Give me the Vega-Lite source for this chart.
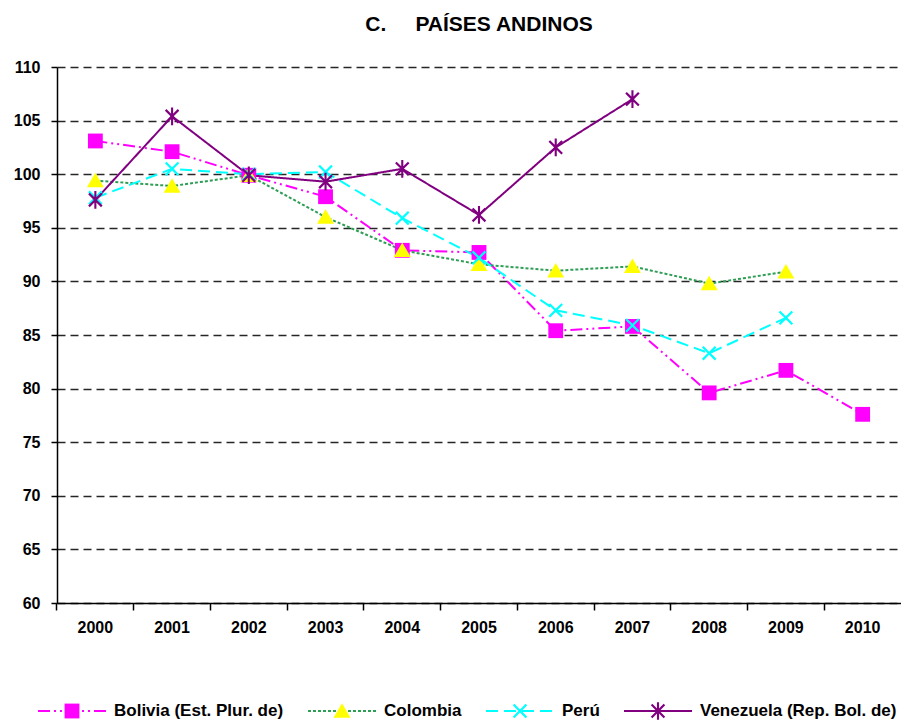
{
  "$schema": "https://vega.github.io/schema/vega-lite/v6.json",
  "width": 844,
  "height": 536,
  "autosize": {"type": "none"},
  "padding": {"left": 57, "top": 67, "right": 0, "bottom": 118},
  "background": "white",
  "config": {
    "font": "Liberation Sans",
    "view": {"stroke": null}
  },
  "title": {
    "text": "C.\u00a0\u00a0\u00a0\u00a0 PAÍSES ANDINOS",
    "fontSize": 21,
    "fontWeight": "bold",
    "font": "Liberation Sans",
    "anchor": "middle",
    "offset": 24,
    "color": "#000000"
  },
  "data": {
    "values": [
      {"anio": "2000", "pais": "Bolivia (Est. Plur. de)", "valor": 103.1},
      {"anio": "2001", "pais": "Bolivia (Est. Plur. de)", "valor": 102.1},
      {"anio": "2002", "pais": "Bolivia (Est. Plur. de)", "valor": 99.9},
      {"anio": "2003", "pais": "Bolivia (Est. Plur. de)", "valor": 97.9},
      {"anio": "2004", "pais": "Bolivia (Est. Plur. de)", "valor": 92.9},
      {"anio": "2005", "pais": "Bolivia (Est. Plur. de)", "valor": 92.7},
      {"anio": "2006", "pais": "Bolivia (Est. Plur. de)", "valor": 85.4},
      {"anio": "2007", "pais": "Bolivia (Est. Plur. de)", "valor": 85.8},
      {"anio": "2008", "pais": "Bolivia (Est. Plur. de)", "valor": 79.6},
      {"anio": "2009", "pais": "Bolivia (Est. Plur. de)", "valor": 81.7},
      {"anio": "2010", "pais": "Bolivia (Est. Plur. de)", "valor": 77.6},
      {"anio": "2000", "pais": "Colombia", "valor": 99.4},
      {"anio": "2001", "pais": "Colombia", "valor": 98.9},
      {"anio": "2002", "pais": "Colombia", "valor": 99.9},
      {"anio": "2003", "pais": "Colombia", "valor": 96.0},
      {"anio": "2004", "pais": "Colombia", "valor": 92.9},
      {"anio": "2005", "pais": "Colombia", "valor": 91.6},
      {"anio": "2006", "pais": "Colombia", "valor": 91.0},
      {"anio": "2007", "pais": "Colombia", "valor": 91.4},
      {"anio": "2008", "pais": "Colombia", "valor": 89.8},
      {"anio": "2009", "pais": "Colombia", "valor": 90.9},
      {"anio": "2000", "pais": "Perú", "valor": 97.8},
      {"anio": "2001", "pais": "Perú", "valor": 100.5},
      {"anio": "2002", "pais": "Perú", "valor": 100.0},
      {"anio": "2003", "pais": "Perú", "valor": 100.2},
      {"anio": "2004", "pais": "Perú", "valor": 95.9},
      {"anio": "2005", "pais": "Perú", "valor": 92.2},
      {"anio": "2006", "pais": "Perú", "valor": 87.3},
      {"anio": "2007", "pais": "Perú", "valor": 85.9},
      {"anio": "2008", "pais": "Perú", "valor": 83.3},
      {"anio": "2009", "pais": "Perú", "valor": 86.6},
      {"anio": "2000", "pais": "Venezuela (Rep. Bol. de)", "valor": 97.6},
      {"anio": "2001", "pais": "Venezuela (Rep. Bol. de)", "valor": 105.4},
      {"anio": "2002", "pais": "Venezuela (Rep. Bol. de)", "valor": 99.9},
      {"anio": "2003", "pais": "Venezuela (Rep. Bol. de)", "valor": 99.3},
      {"anio": "2004", "pais": "Venezuela (Rep. Bol. de)", "valor": 100.5},
      {"anio": "2005", "pais": "Venezuela (Rep. Bol. de)", "valor": 96.2},
      {"anio": "2006", "pais": "Venezuela (Rep. Bol. de)", "valor": 102.5},
      {"anio": "2007", "pais": "Venezuela (Rep. Bol. de)", "valor": 107.0}
    ]
  },
  "encoding": {
    "x": {
      "field": "anio",
      "type": "ordinal",
      "bandPosition": 0.5,
      "scale": {"type": "band", "paddingInner": 0, "paddingOuter": 0},
      "axis": {
        "title": null,
        "labelAngle": 0,
        "labelFont": "Liberation Sans",
        "labelFontSize": 16,
        "labelFontWeight": "bold",
        "labelColor": "#000000",
        "labelPadding": 9,
        "domainColor": "#000000",
        "domainWidth": 1.5,
        "tickColor": "#000000",
        "tickWidth": 1.5,
        "tickSize": 7,
        "bandPosition": 0,
        "grid": false
      }
    },
    "y": {
      "field": "valor",
      "type": "quantitative",
      "scale": {"domain": [60, 110], "nice": false, "zero": false},
      "axis": {
        "title": null,
        "values": [60, 65, 70, 75, 80, 85, 90, 95, 100, 105, 110],
        "labelFont": "Liberation Sans",
        "labelFontSize": 16,
        "labelFontWeight": "bold",
        "labelColor": "#000000",
        "labelPadding": 11,
        "domainColor": "#000000",
        "domainWidth": 1.5,
        "tickColor": "#000000",
        "tickWidth": 1.5,
        "tickSize": 6,
        "grid": true,
        "gridColor": "#000000",
        "gridWidth": 1.6,
        "gridDash": [8, 5],
        "gridOpacity": 0.85
      }
    }
  },
  "layer": [
    {
      "mark": {"type": "line", "strokeWidth": 2},
      "encoding": {
        "stroke": {
          "field": "pais",
          "type": "nominal",
          "scale": {
            "domain": ["Bolivia (Est. Plur. de)", "Colombia", "Perú", "Venezuela (Rep. Bol. de)"],
            "range": ["#FF00FF", "#2E9E55", "#00FFFF", "#800080"]
          },
          "legend": {
            "title": null,
            "orient": "none",
            "legendX": -20,
            "legendY": 634,
            "direction": "horizontal",
            "symbolType": "stroke",
            "symbolSize": 4624,
            "symbolStrokeWidth": 2,
            "clipHeight": 20,
            "labelFont": "Liberation Sans",
            "labelFontSize": 17,
            "labelFontWeight": "bold",
            "labelColor": "#000000",
            "labelLimit": 400,
            "labelOffset": 7,
            "columnPadding": 23,
            "zindex": 0
          }
        },
        "strokeDash": {
          "field": "pais",
          "type": "nominal",
          "scale": {
            "domain": ["Bolivia (Est. Plur. de)", "Colombia", "Perú", "Venezuela (Rep. Bol. de)"],
            "range": [[12, 4, 2, 4, 2, 4], [3, 2], [12, 6], [1, 0]]
          },
          "legend": {
            "title": null,
            "orient": "none",
            "legendX": -20,
            "legendY": 634,
            "direction": "horizontal",
            "symbolType": "stroke",
            "symbolSize": 4624,
            "symbolStrokeWidth": 2,
            "clipHeight": 20,
            "labelFont": "Liberation Sans",
            "labelFontSize": 17,
            "labelFontWeight": "bold",
            "labelColor": "#000000",
            "labelLimit": 400,
            "labelOffset": 7,
            "columnPadding": 23,
            "zindex": 0
          }
        }
      }
    },
    {
      "mark": {"type": "point", "filled": true, "size": 4624, "opacity": 1, "strokeWidth": 0},
      "encoding": {
        "shape": {
          "field": "pais",
          "type": "nominal",
          "scale": {
            "domain": ["Bolivia (Est. Plur. de)", "Colombia", "Perú", "Venezuela (Rep. Bol. de)"],
            "range": [
              "M-1,0M1,0M-0.218,-0.218L0.218,-0.218L0.218,0.218L-0.218,0.218Z",
              "M-1,0M1,0M0,-0.229L0.25,0.197L-0.25,0.197Z",
              "M-1,0M1,0M-0.166,-0.212L0,-0.046L0.166,-0.212L0.212,-0.166L0.046,0L0.212,0.166L0.166,0.212L0,0.046L-0.166,0.212L-0.212,0.166L-0.046,0L-0.212,-0.166Z",
              "M-1,0M1,0M-0.166,-0.212L0,-0.046L0.166,-0.212L0.212,-0.166L0.046,0L0.212,0.166L0.166,0.212L0,0.046L-0.166,0.212L-0.212,0.166L-0.046,0L-0.212,-0.166Z M-0.031,-0.26L0.031,-0.26L0.031,0.26L-0.031,0.26Z"
            ]
          },
          "legend": {
            "title": null,
            "orient": "none",
            "legendX": -20,
            "legendY": 634,
            "direction": "horizontal",
            "symbolSize": 4624,
            "symbolStrokeWidth": 2,
            "symbolStrokeColor": "transparent",
            "clipHeight": 20,
            "labelFont": "Liberation Sans",
            "labelFontSize": 17,
            "labelFontWeight": "bold",
            "labelColor": "#000000",
            "labelOpacity": 0,
            "labelLimit": 400,
            "labelOffset": 7,
            "columnPadding": 23,
            "zindex": 1
          }
        },
        "fill": {
          "field": "pais",
          "type": "nominal",
          "scale": {
            "domain": ["Bolivia (Est. Plur. de)", "Colombia", "Perú", "Venezuela (Rep. Bol. de)"],
            "range": ["#FF00FF", "#FFFF00", "#00FFFF", "#800080"]
          },
          "legend": {
            "title": null,
            "orient": "none",
            "legendX": -20,
            "legendY": 634,
            "direction": "horizontal",
            "symbolSize": 4624,
            "symbolStrokeWidth": 2,
            "symbolStrokeColor": "transparent",
            "clipHeight": 20,
            "labelFont": "Liberation Sans",
            "labelFontSize": 17,
            "labelFontWeight": "bold",
            "labelColor": "#000000",
            "labelOpacity": 0,
            "labelLimit": 400,
            "labelOffset": 7,
            "columnPadding": 23,
            "zindex": 1
          }
        }
      }
    }
  ],
  "resolve": {
    "scale": {"stroke": "independent", "strokeDash": "independent", "fill": "independent", "shape": "independent"},
    "legend": {"stroke": "independent", "strokeDash": "independent", "fill": "independent", "shape": "independent"}
  }
}
